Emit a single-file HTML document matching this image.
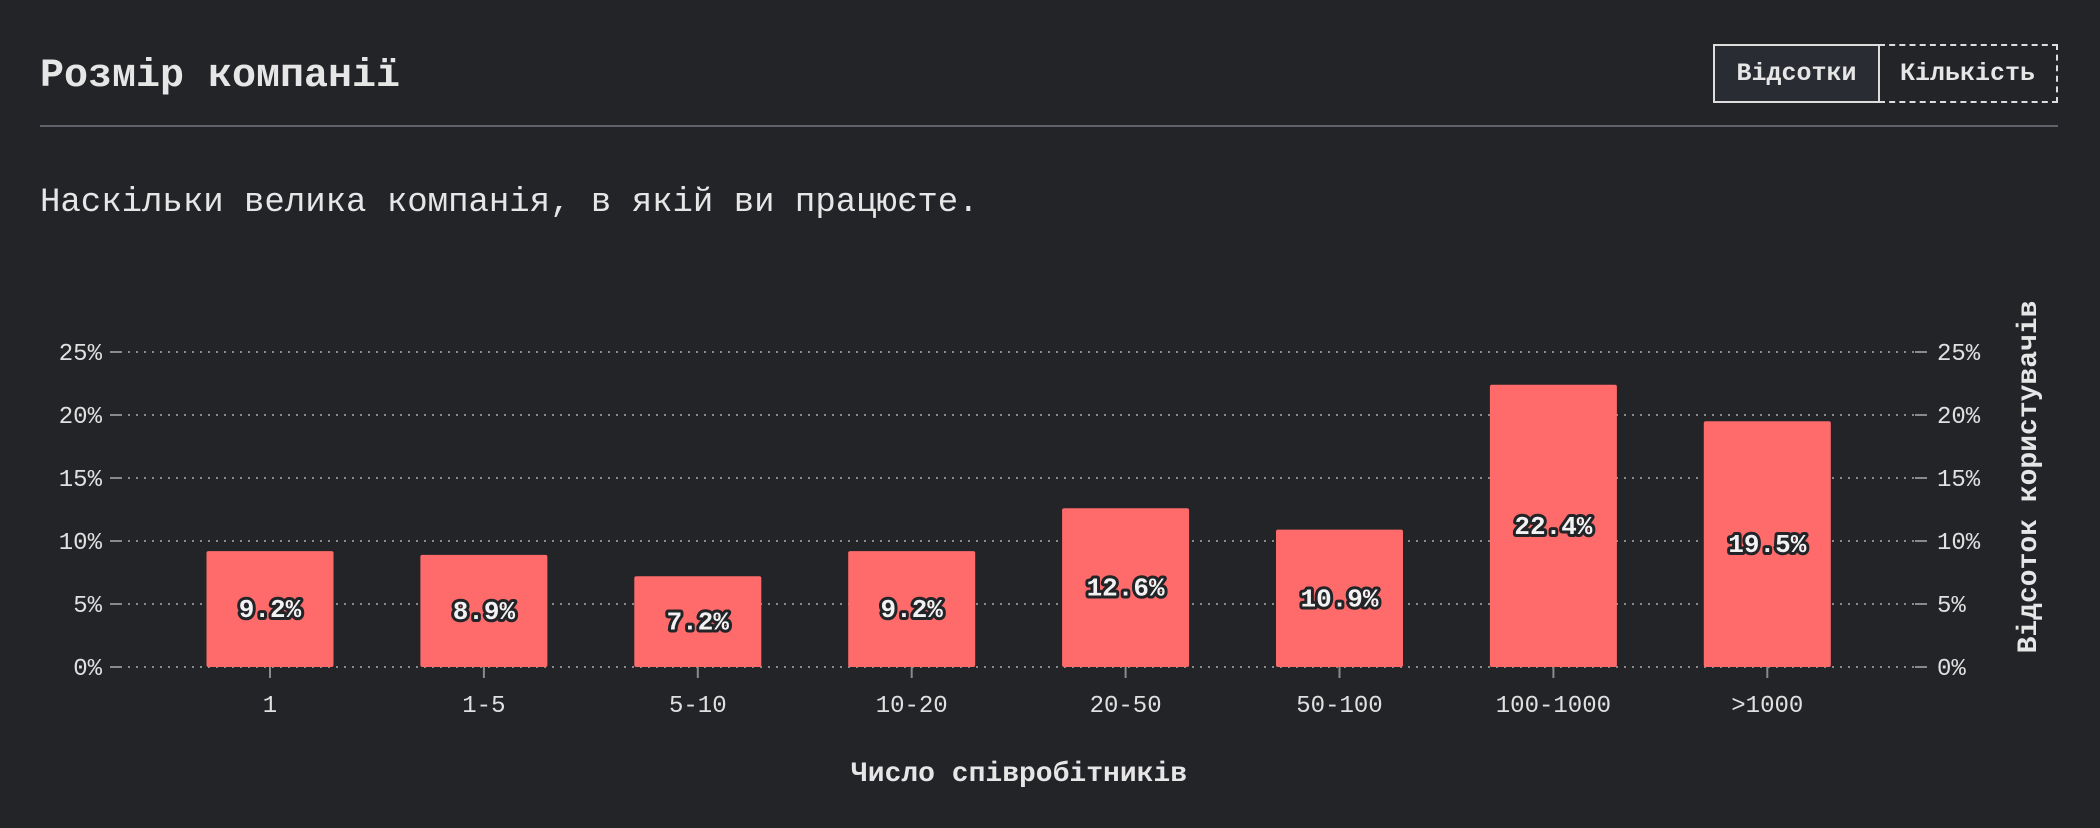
<!DOCTYPE html>
<html><head><meta charset="utf-8"><style>
html,body{margin:0;padding:0;background:#232428;}
body{width:2100px;height:828px;position:relative;overflow:hidden;font-family:"Liberation Mono","DejaVu Sans Mono",monospace;color:#e6e6e6;}
#title{position:absolute;left:40px;top:54px;font-size:40px;font-weight:bold;}
#rule{position:absolute;left:40px;top:125px;width:2018px;height:2px;background:#5f6268;}
.btn{position:absolute;top:44px;height:59px;box-sizing:border-box;font-size:25px;font-weight:bold;display:flex;align-items:center;justify-content:center;}
#b1{left:1713px;width:167px;border:2px solid #ddd;background:#2a2c33;}
#b2{left:1879px;width:179px;border:2px dashed #ddd;border-left:none;}
#sub{position:absolute;left:40px;top:184px;font-size:34px;}
svg{position:absolute;left:0;top:0;}
</style></head><body>
<div id="title">Розмір компанії</div>
<div class="btn" id="b1">Відсотки</div>
<div class="btn" id="b2">Кількість</div>
<div id="rule"></div>
<div id="sub">Наскільки велика компанія, в якій ви працюєте.</div>
<svg id="chart" width="2100" height="828"></svg>
<script>
const categories=["1","1-5","5-10","10-20","20-50","50-100","100-1000",">1000"];
const values=[9.2,8.9,7.2,9.2,12.6,10.9,22.4,19.5];
const yTicks=[0,5,10,15,20,25];
const NS="http://www.w3.org/2000/svg";
const svg=document.getElementById('chart');
const x0=120,x1=1915,y0=667,yMax=25,yTop=352;
const firstC=270,step=213.9,bw=127;
function y(v){return y0-(v/yMax)*(y0-yTop);}
function xc(i){return firstC+i*step;}
function mk(t,a,txt){const e=document.createElementNS(NS,t);for(const k in a)e.setAttribute(k,a[k]);if(txt!==undefined)e.textContent=txt;svg.appendChild(e);return e;}
yTicks.forEach(t=>{
  const g=mk('line',{x1:x0,x2:x1,y1:y(t),y2:y(t),stroke:'#8a8a8a','stroke-width':2,'stroke-dasharray':'2 6'});
  
  
  mk('line',{x1:x0-10,x2:x0,y1:y(t),y2:y(t),stroke:'#8a8a8a','stroke-width':2});
  mk('line',{x1:x1,x2:x1+12,y1:y(t),y2:y(t),stroke:'#8a8a8a','stroke-width':2});
  const l=mk('text',{x:x0-18,y:y(t)+8,'text-anchor':'end','font-size':24,fill:'#e0e0e0','font-family':'Liberation Mono, monospace'},t+'%');
  
  
  const r=mk('text',{x:x1+22,y:y(t)+8,'text-anchor':'start','font-size':24,fill:'#e0e0e0','font-family':'Liberation Mono, monospace'},t+'%');
  
  
});
categories.forEach((c,i)=>{
  const b=mk('rect',{x:xc(i)-bw/2,y:y(values[i]),width:bw,height:y0-y(values[i]),fill:'#ff6b6b',rx:2});
  
  
  mk('line',{x1:xc(i),x2:xc(i),y1:y0,y2:y0+11,stroke:'#8a8a8a','stroke-width':2});
  const tl=mk('text',{x:xc(i),y:y0+45,'text-anchor':'middle','font-size':24,fill:'#e0e0e0','font-family':'Liberation Mono, monospace'},c);
  
  
  const v=mk('text',{x:xc(i),y:(y(values[i])+y0)/2+8,'text-anchor':'middle','font-size':26,'font-weight':'bold',fill:'#f2f2f2',stroke:'#232428','stroke-width':6,'paint-order':'stroke','stroke-linejoin':'round','font-family':'Liberation Mono, monospace'},values[i].toFixed(1)+'%');
  
  
});
const xt=mk('text',{x:1019,y:781,'text-anchor':'middle','font-size':28,'font-weight':'bold',fill:'#e6e6e6','font-family':'Liberation Mono, monospace'},'Число співробітників');


const yt=mk('text',{x:0,y:0,'text-anchor':'middle','font-size':28,'font-weight':'bold',fill:'#e6e6e6','font-family':'Liberation Mono, monospace',transform:'translate(2036,477) rotate(-90)'},'Відсоток користувачів');


</script>
</body></html>
